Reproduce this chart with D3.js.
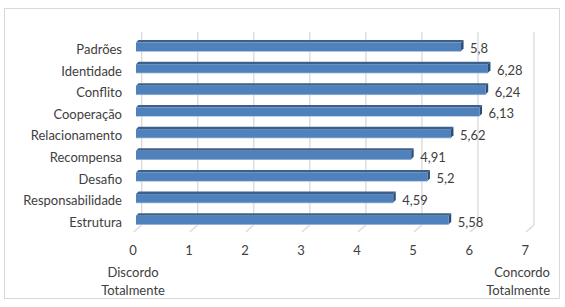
<!DOCTYPE html>
<html>
<head>
<meta charset="utf-8">
<script src="https://cdn.jsdelivr.net/npm/d3@7"></script>
<style>
  body { margin: 0; background: #fff; }
  svg text { font-family: Lato, "Open Sans", sans-serif; fill: #404040; }
</style>
</head>
<body>
<div id="chart"></div>
<script>
// Clima organizacional — médias por dimensão
const categories = ['Padrões', 'Identidade', 'Conflito', 'Cooperação', 'Relacionamento',
  'Recompensa', 'Desafio', 'Responsabilidade', 'Estrutura'];
const values = [5.8, 6.28, 6.24, 6.13, 5.62, 4.91, 5.2, 4.59, 5.58];
const tickValues = [0, 1, 2, 3, 4, 5, 6, 7];
const leftTitle = ['Discordo', 'Totalmente'];
const rightTitle = ['Concordo', 'Totalmente'];

const W = 565, H = 307;
const depth = 2.5;        // 3D extrusion of bars
const wallShift = 5.7;    // back wall offset of gridlines
const fontSize = '13px';

const ptBR = d3.formatLocale({ decimal: ',', thousands: '.', grouping: [3], currency: ['R$', ''] });
const fmt = ptBR.format('~g');

const svg = d3.select('#chart').append('svg')
  .attr('width', W).attr('height', H);

// chart border
svg.append('rect')
  .attr('x', 4.5).attr('y', 8.5).attr('width', 555).attr('height', 290)
  .attr('fill', 'none').attr('stroke', '#d9d9d9').attr('stroke-width', 1);

const x = d3.scaleLinear().domain([0, 7]).range([136, 528.3]);
const y = d3.scaleBand().domain(categories).range([36, 230.8]);
const barH = 8.5;

// Gridlines on back wall + floor slants
const grid = svg.append('g');
tickValues.forEach(t => {
  const gx = x(t) + wallShift;
  grid.append('line')
    .attr('x1', gx).attr('x2', gx).attr('y1', 32).attr('y2', 225)
    .attr('stroke', '#d9d9d9').attr('stroke-width', 1.3);
  grid.append('line')
    .attr('x1', gx).attr('x2', gx - 8).attr('y1', 225).attr('y2', 232)
    .attr('stroke', '#d9d9d9').attr('stroke-width', 1.3);
});

// Bars (front, top, side faces)
const bars = svg.append('g').selectAll('g')
  .data(categories.map((c, i) => ({ cat: c, v: values[i] })))
  .join('g');

bars.each(function (d) {
  const g = d3.select(this);
  const x0 = x(0), x1 = x(d.v);
  const y0 = y(d.cat) + y.bandwidth() / 2 - barH / 2;
  // soft lower edge
  g.append('rect')
    .attr('x', x0).attr('y', y0 + barH - 0.5).attr('width', x1 - x0).attr('height', 1.2)
    .attr('fill', '#a9bdd8');
  g.append('polygon')
    .attr('points', [[x0, y0], [x1, y0], [x1 + depth, y0 - depth], [x0 + depth, y0 - depth]].join(' '))
    .attr('fill', '#3c5f8c');
  g.append('polygon')
    .attr('points', [[x1, y0], [x1 + depth, y0 - depth], [x1 + depth, y0 + barH - depth], [x1, y0 + barH]].join(' '))
    .attr('fill', '#2e4d75');
  g.append('rect')
    .attr('x', x0).attr('y', y0).attr('width', x1 - x0).attr('height', barH)
    .attr('fill', '#4f81bd');
});

// Value labels
svg.append('g').selectAll('text')
  .data(categories.map((c, i) => ({ cat: c, v: values[i] })))
  .join('text')
  .attr('x', d => x(d.v) + 9)
  .attr('y', d => y(d.cat) + y.bandwidth() / 2 + 2)
  .attr('dy', '0.35em')
  .style('font-size', fontSize)
  .text(d => fmt(d.v));

// Category axis labels
svg.append('g').selectAll('text')
  .data(categories)
  .join('text')
  .attr('x', 122)
  .attr('y', d => y(d) + y.bandwidth() / 2 + 2.5)
  .attr('dy', '0.35em')
  .attr('text-anchor', 'end')
  .style('font-size', fontSize)
  .text(d => d);

// Value axis
svg.append('g')
  .attr('transform', 'translate(-3.6,245.3)')
  .call(d3.axisBottom(x).tickValues(tickValues).tickSize(0).tickPadding(0).tickFormat(d => fmt(d)))
  .call(g => g.select('.domain').remove())
  .call(g => g.selectAll('text')
    .style('font-size', fontSize)
    .style('font-family', 'Lato, "Open Sans", sans-serif')
    .attr('fill', '#404040'));

// Scale end titles
svg.append('text')
  .attr('x', 133).attr('y', 272)
  .attr('text-anchor', 'middle').style('font-size', fontSize)
  .selectAll('tspan').data(leftTitle).join('tspan')
  .attr('x', 133).attr('dy', (d, i) => i === 0 ? '0.35em' : 18.5)
  .text(d => d);

svg.append('text')
  .attr('x', 550).attr('y', 272)
  .attr('text-anchor', 'end').style('font-size', fontSize)
  .selectAll('tspan').data(rightTitle).join('tspan')
  .attr('x', 550).attr('dy', (d, i) => i === 0 ? '0.35em' : 18.5)
  .text(d => d);
</script>
</body>
</html>
